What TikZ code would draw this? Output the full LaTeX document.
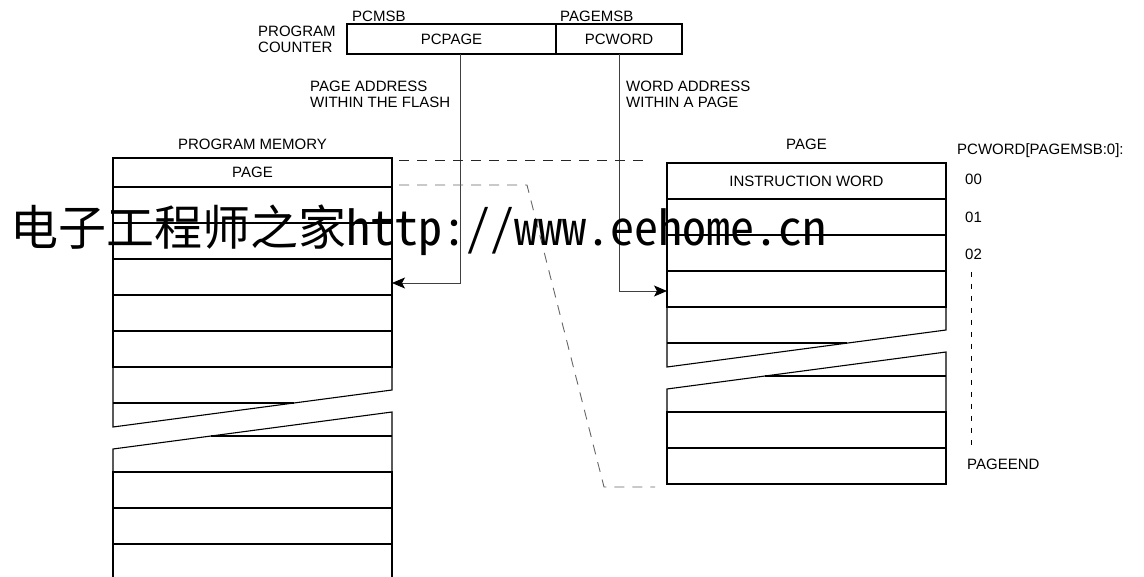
\documentclass[tikz,border=0pt]{standalone}
\usepackage{fontspec}
\setmainfont{Liberation Sans}
\newfontfamily\cjkfont{Noto Sans CJK SC}[RawFeature={+hwid}]
\usetikzlibrary{
    arrows.meta,
    positioning,
    calc
}

\begin{document}
\begin{tikzpicture}[
    x=1pt, y=-1pt,
    >={Stealth[length=13pt,width=11pt,inset=3pt,color=black]},
    font=\fontsize{15}{16}\selectfont,
    cell/.style={draw, line width=1.1pt, minimum width=279pt, minimum height=36pt, inner sep=0pt, outer sep=0pt},
    outline/.style={draw, line width=1.1pt},
    link/.style={draw, line width=0.8pt, black!75},
    guide/.style={line width=0.9pt, dash pattern=on 10pt off 8pt},
    txt/.style={inner sep=0pt}
]
\useasboundingbox (0,0) rectangle (1144,577);

% program counter
\node[cell, minimum width=209pt, minimum height=30pt, anchor=north west] (pcpage) at (347,24) {PCPAGE};
\node[cell, minimum width=126pt, minimum height=30pt, right=0pt of pcpage] (pcword) {PCWORD};
\node[txt, anchor=base west] (pcmsb) at (352,22) {PCMSB};
\node[txt, anchor=base west] (pagemsb) at (560,22) {PAGEMSB};
\node[txt, align=left, anchor=north west] (pclabel) at (258,26) {PROGRAM\\COUNTER};
\node[txt, align=left, anchor=north west] (pageaddr) at (310,81) {PAGE ADDRESS\\WITHIN THE FLASH};
\node[txt, align=left, anchor=north west] (wordaddr) at (626,81) {WORD ADDRESS\\WITHIN A PAGE};

% program memory
\node[cell, minimum height=29pt, anchor=north west] (mempage) at (113,158) {PAGE};
\node[cell, below=0pt of mempage] (mem1) {};
\node[cell, below=0pt of mem1] (mem2) {};
\node[cell, below=0pt of mem2] (mem3) {};
\node[cell, below=0pt of mem3] (mem4) {};
\node[cell, below=0pt of mem4] (mem5) {};
\node[txt, above=8pt of mempage] (memtitle) {PROGRAM MEMORY};

\draw[outline] (mem5.south west) -- (113,427) -- (392,390) -- (mem5.south east);
\draw[outline] (113,403) -- (294,403);
\draw[outline] (113,472) -- (113,449) -- (392,412) -- (392,472);
\draw[outline] (211,436) -- (392,436);
\node[cell, anchor=north west] (memlo1) at (113,472) {};
\node[cell, below=0pt of memlo1] (memlo2) {};
\node[cell, below=0pt of memlo2] (memlo3) {};

% page
\node[cell, anchor=north west] (pg0) at (667,163) {INSTRUCTION WORD};
\node[cell, below=0pt of pg0] (pg1) {};
\node[cell, below=0pt of pg1] (pg2) {};
\node[cell, below=0pt of pg2] (pg3) {};
\node[txt, above=13pt of pg0] (pagetitle) {PAGE};

\draw[outline] (pg3.south west) -- (667,367) -- (946,330) -- (pg3.south east);
\draw[outline] (667,343) -- (847,343);
\draw[outline] (667,412) -- (667,389) -- (946,352) -- (946,412);
\draw[outline] (765,376) -- (946,376);
\node[cell, anchor=north west] (pglo1) at (667,412) {};
\node[cell, below=0pt of pglo1] (pglo2) {};

% word index
\node[txt, anchor=base west] (wordidx) at (957,155) {PCWORD[PAGEMSB:0]:};
\node[txt, anchor=west] (idx00) at (965,179) {00};
\node[txt, anchor=west] (idx01) at (965,217) {01};
\node[txt, anchor=west] (idx02) at (965,254) {02};
\node[txt, anchor=west] (pageend) at (967,464) {PAGEEND};
\coordinate (idxtop) at (971,272);
\coordinate (idxbot) at (971,445);
\draw[line width=0.8pt, dash pattern=on 5pt off 7pt] (idxtop) -- (idxbot);

% address arrows
\draw[link, ->] ([xshift=8.5pt]pcpage.south) |- ([yshift=-6pt]mem3.east);
\draw[link, ->] (pcword.south) |- ([yshift=-2pt]pg3.west);

% page guides
\coordinate (g1a) at (399,160);
\coordinate (g1b) at (650,160);
\coordinate (g2a) at (399,185);
\coordinate (g2b) at (527,185);
\coordinate (g2c) at (604,487);
\coordinate (g2d) at (655,487);
\draw[guide, black!85] (g1a) -- (g1b);
\draw[guide, black!60] (g2a) -- (g2b) -- (g2c) -- (g2d);

\node[inner sep=0pt, anchor=base west, font=\cjkfont\fontsize{48}{48}\selectfont] (watermark) at (10,246) {电子工程师之家http://www.eehome.cn};

\end{tikzpicture}
\end{document}
